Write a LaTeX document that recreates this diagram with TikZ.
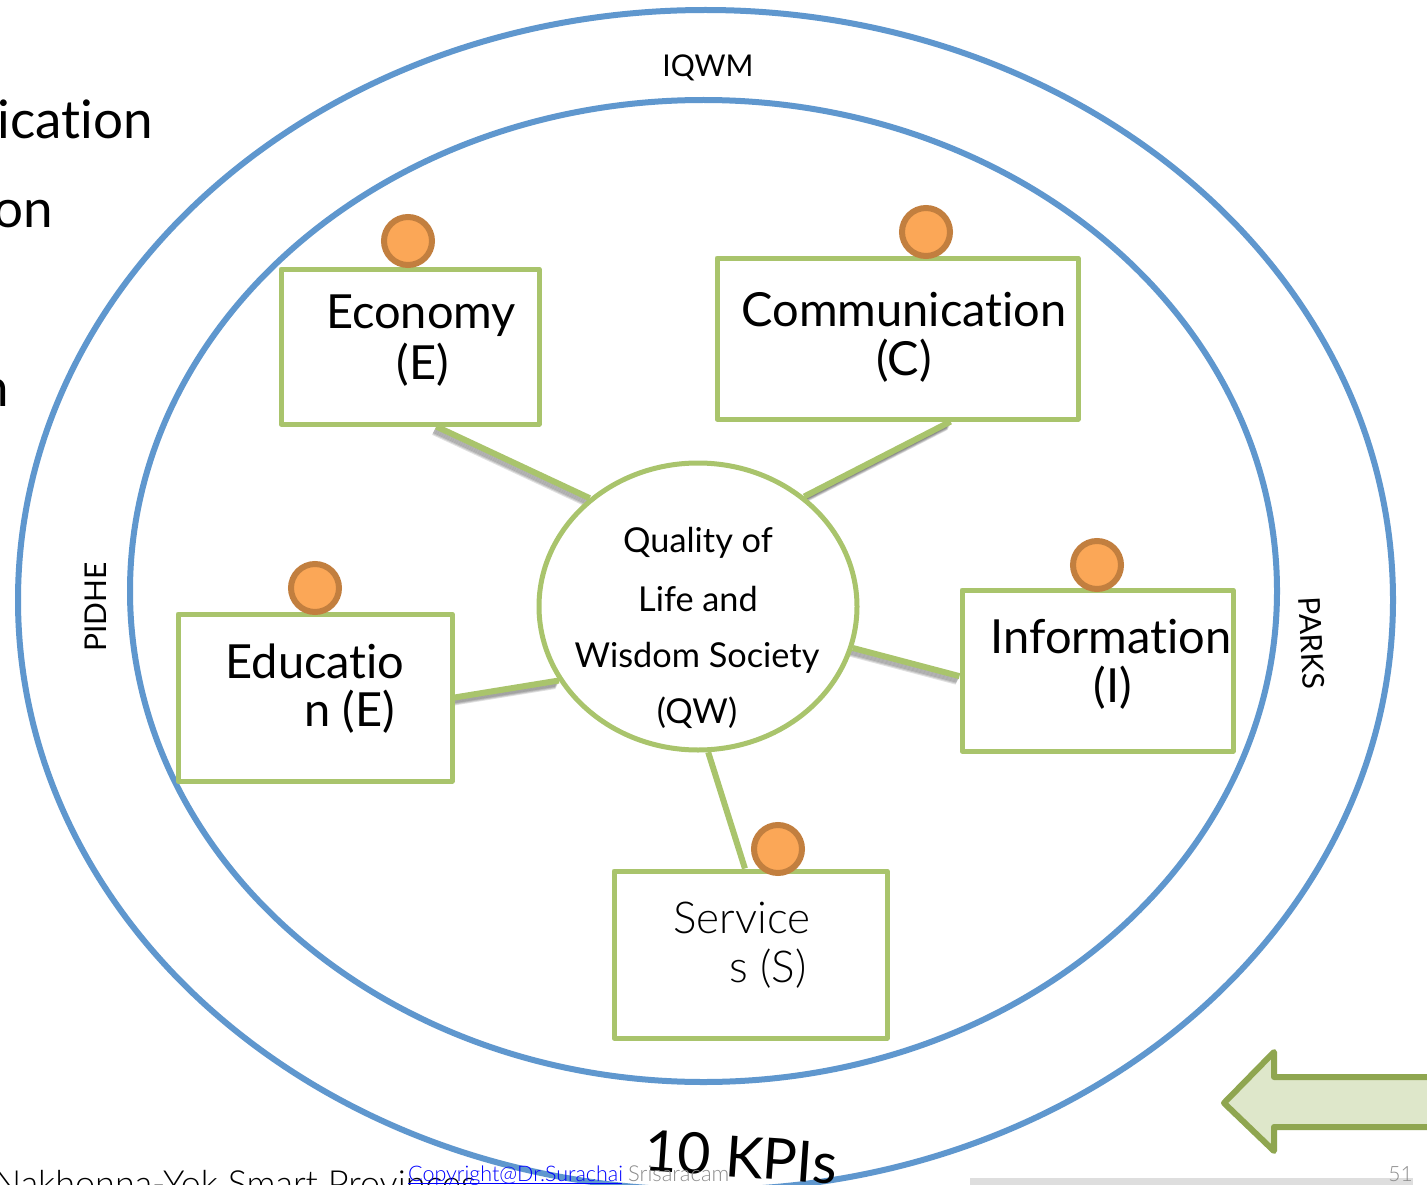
\documentclass[tikz,border=0pt]{standalone}
\usepackage{fontspec}
\setmainfont{Lato}[Ligatures=CommonOff]
\newfontfamily\thinfont{Lato Light}[Ligatures=CommonOff]
\usetikzlibrary{calc,shapes.geometric}
\definecolor{ringblue}{HTML}{5F97CE}
\definecolor{boxgreen}{HTML}{A9C46C}
\definecolor{dotfill}{HTML}{FBA757}
\definecolor{dotline}{HTML}{C27F3F}
\definecolor{arrowfill}{HTML}{DEE7CA}
\definecolor{arrowline}{HTML}{8FA650}
\tikzset{
  x=1pt,y=-1pt,
  ring/.style={ellipse,draw=ringblue,line width=6pt,inner sep=0pt,fill=none},
  topicbox/.style={rectangle,draw=boxgreen,line width=5pt,fill=white,inner sep=0pt,line join=round},
  hub/.style={ellipse,draw=boxgreen,line width=5pt,fill=white,inner sep=0pt},
  dot/.style={circle,draw=dotline,line width=6pt,fill=dotfill,inner sep=0pt,minimum size=48pt},
  big/.style={font=\fontsize{47}{47}\selectfont,inner sep=0pt,text=black},
  mid/.style={font=\fontsize{34.3}{34}\selectfont,inner sep=0pt,text=black},
  small/.style={font=\fontsize{30}{30}\selectfont,inner sep=0pt,text=black},
  foot/.style={font=\fontsize{22}{22}\selectfont,inner sep=0pt},
  link/.style={draw=boxgreen,line width=6pt},
  linkshadow/.style={draw=black,line width=3pt,opacity=0.12},
}
\newcommand{\linkpair}[2]{%
  \path #1 coordinate (la) #2 coordinate (lb);
  \foreach \d in {2,3,4,5,6,7}{\draw[linkshadow] ($(la)+(-0.5*\d,\d)$) -- ($(lb)+(-0.5*\d,\d)$);}
  \draw[link] (la) -- (lb);}
\begin{document}
\begin{tikzpicture}
\useasboundingbox (0,0) rectangle (1427,1185);
\fill[white] (0,0) rectangle (1427,1185);
\node[ring,minimum width=1375pt,minimum height=1180pt] (outer) at (705.5,600) {};
\node[ring,minimum width=1147pt,minimum height=982pt] (inner) at (703.5,591) {};

\node[topicbox,draw=none,fill=none,minimum width=258pt,minimum height=155pt] (econ) at (410,346.5) {};
\node[topicbox,draw=none,fill=none,minimum width=361pt,minimum height=161pt] (comm) at (897.5,338.5) {};
\node[topicbox,draw=none,fill=none,minimum width=274pt,minimum height=167pt] (edu) at (315,697.5) {};
\node[topicbox,draw=none,fill=none,minimum width=271pt,minimum height=161pt] (info) at (1097.5,670.5) {};
\node[hub,draw=none,fill=none,minimum width=318pt,minimum height=287pt] (qw) at (698,606.5) {};

\linkpair{($(econ.south west)!0.6!(econ.south east)$)}{(qw.135)}
\linkpair{($(comm.south west)!0.645!(comm.south east)$)}{(qw.46)}
\linkpair{(edu.east)}{(qw.208)}
\linkpair{($(info.north west)!0.534!(info.south west)$)}{(qw.-15)}

\node[topicbox,minimum width=258pt,minimum height=155pt] (econb) at (410,346.5) {};
\node[topicbox,minimum width=361pt,minimum height=161pt] (commb) at (897.5,338.5) {};
\node[topicbox,minimum width=274pt,minimum height=167pt] (edub) at (315,697.5) {};
\node[topicbox,minimum width=271pt,minimum height=161pt] (infob) at (1097.5,670.5) {};
\node[topicbox,minimum width=273pt,minimum height=167pt] (serv) at (750.5,954.5) {};
\node[hub,minimum width=318pt,minimum height=287pt] (qwb) at (698,606.5) {};
\draw[link] ($(serv.north west)!0.48!(serv.north east)$) -- (qwb.-86);

\node[dot] (d1) at (408,241) {};
\node[dot] (d2) at (926,232) {};
\node[dot] (d3) at (315,588) {};
\node[dot] (d4) at (1097,565) {};
\node[dot] (d5) at (778,849) {};

\node[big] (t1a) at (421,316) {Economy};
\node[big] (t1b) at (423,365) {(E)};
\node[big] (t2a) at (904,310) {Communication};
\node[big] (t2b) at (904,361) {(C)};
\node[big] (t3a) at (315,661) {Educatio};
\node[big] (t3b) at (350,712) {n (E)};
\node[big] (t4a) at (1111,637) {Information};
\node[big] (t4b) at (1113,688) {(I)};
\node[big,font=\fontsize{44}{44}\thinfont] (t5a) at (742,918) {Service};
\node[big,font=\fontsize{44}{44}\thinfont] (t5b) at (768,969) {s (S)};

\node[mid] (q1) at (698,543) {Quality of};
\node[mid] (q2) at (698,599) {Life and};
\node[mid] (q3) at (697,658) {Wisdom Society};
\node[mid] (q4) at (697,713) {(QW)};

\node[small] (iqwm) at (708,68) {IQWM};
\node[small,rotate=90] (pidhe) at (96,607) {PIDHE};
\node[small,rotate=-87] (parks) at (1312,643) {PARKS};

\node[big,font=\fontsize{53}{53}\selectfont,anchor=base east] (l1) at (153,139) {ication};
\node[big,font=\fontsize{53}{53}\selectfont,anchor=base east] (l2) at (53,228) {on};
\node[big,font=\fontsize{53}{53}\selectfont,anchor=base east] (l3) at (9,406) {n};

\draw[draw=arrowline,fill=arrowfill,line width=6pt,line join=round]
  (1440,1077) -- (1274,1077) -- (1274,1052) -- (1224,1103) -- (1274,1151) -- (1274,1127) -- (1440,1127);

\node[big,font=\fontsize{57}{57}\selectfont,rotate=-4] (kpi) at (741,1157) {10 KPIs};

\fill[black!13] (970,1178) rectangle (1413,1190);
\node[foot,anchor=base west,font=\fontsize{36}{36}\thinfont] (nak) at (-6,1196) {Nakhonna-Yok Smart Provinces};
\node[foot,anchor=base west,text=blue,font=\fontsize{21.5}{21}\thinfont] (copy) at (408,1181) {Copyright@Dr.Surachai};
\draw[blue,line width=1.2pt] (copy.base west)++(0,2.5) -- ++(214,0);
\node[foot,anchor=base west,text=black!45,font=\fontsize{22}{22}\thinfont] (sris) at (628,1181) {Srisaracam};
\node[foot,anchor=base east,text=black!45,font=\fontsize{21}{21}\thinfont] (pg) at (1413,1181) {51};
\end{tikzpicture}
\end{document}
